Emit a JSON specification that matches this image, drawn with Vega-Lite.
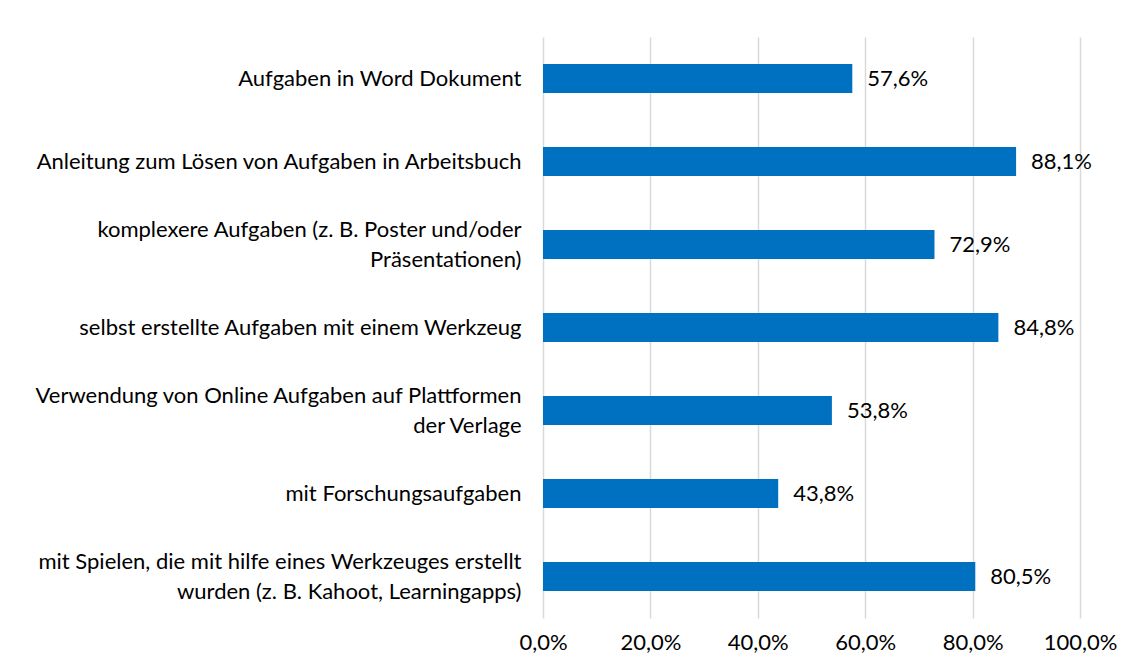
{
  "$schema": "https://vega.github.io/schema/vega-lite/v6.json",
  "width": 537,
  "height": 581,
  "autosize": {"type": "none"},
  "padding": {"left": 543, "top": 37, "right": 55, "bottom": 53},
  "background": "#ffffff",
  "config": {
    "locale": {"number": {"decimal": ",", "thousands": ".", "grouping": [3], "currency": ["", " €"]}},
    "view": {"stroke": null},
    "font": "Lato"
  },
  "data": {
    "values": [
      {"kategorie": "Aufgaben in Word Dokument", "anteil": 0.576},
      {"kategorie": "Anleitung zum Lösen von Aufgaben in Arbeitsbuch", "anteil": 0.881},
      {"kategorie": "komplexere Aufgaben (z. B. Poster und/oder|Präsentationen)", "anteil": 0.729},
      {"kategorie": "selbst erstellte Aufgaben mit einem Werkzeug", "anteil": 0.848},
      {"kategorie": "Verwendung von Online Aufgaben auf Plattformen|der Verlage", "anteil": 0.538},
      {"kategorie": "mit Forschungsaufgaben", "anteil": 0.438},
      {"kategorie": "mit Spielen, die mit hilfe eines Werkzeuges erstellt|wurden (z. B. Kahoot, Learningapps)", "anteil": 0.805}
    ]
  },
  "encoding": {
    "y": {
      "field": "kategorie",
      "type": "nominal",
      "sort": null,
      "title": null,
      "scale": {"paddingInner": 0.65, "paddingOuter": 0.325},
      "axis": {
        "domain": false,
        "ticks": false,
        "labelExpr": "split(datum.label, '|')",
        "labelFontSize": 22,
        "labelColor": "#000000",
        "labelPadding": 22,
        "labelLineHeight": 30,
        "labelLimit": 600,
        "labelAlign": "right",
        "labelOffset": {"condition": {"test": "indexof(datum.value, '|') >= 0", "value": -15}, "value": 0}
      }
    },
    "x": {
      "field": "anteil",
      "type": "quantitative",
      "title": null,
      "scale": {"domain": [0, 1], "nice": false},
      "axis": {
        "values": [0, 0.2, 0.4, 0.6, 0.8, 1],
        "format": ".1%",
        "domain": false,
        "ticks": false,
        "grid": true,
        "gridColor": "#d9d9d9",
        "gridWidth": 1.5,
        "labelFontSize": 22,
        "labelColor": "#000000",
        "labelPadding": 14,
        "labelFlush": false,
        "labelOverlap": false
      }
    }
  },
  "layer": [
    {"mark": {"type": "bar", "color": "#0070C0"}},
    {
      "mark": {"type": "text", "align": "left", "baseline": "middle", "dx": 15, "fontSize": 22, "color": "#000000"},
      "encoding": {"text": {"field": "anteil", "type": "quantitative", "format": ".1%"}}
    }
  ]
}
